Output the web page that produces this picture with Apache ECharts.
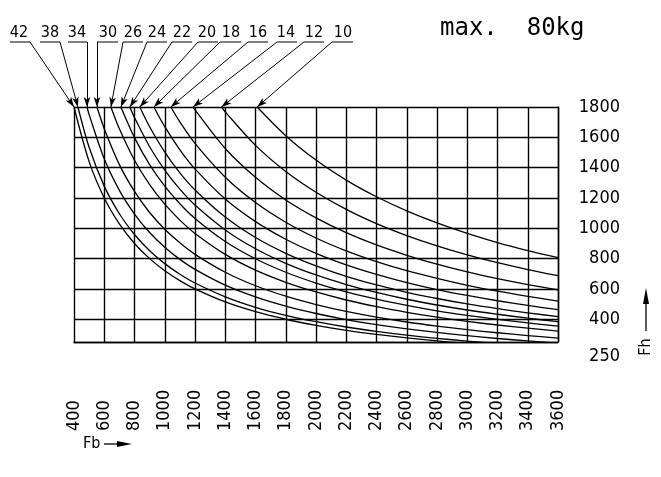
<!DOCTYPE html>
<html><head><meta charset="utf-8">
<script src="https://cdn.jsdelivr.net/npm/echarts@6/dist/echarts.min.js"></script>
<style>html,body{margin:0;padding:0;background:#fff}#c{width:661px;height:477px}</style>
</head><body><div id="c"></div>
<script>
// ---- data ----
const xTicks = [400,600,800,1000,1200,1400,1600,1800,2000,2200,2400,2600,2800,3000,3200,3400,3600];
const fhTicks = [250,400,600,800,1000,1200,1400,1600,1800];
const fbValues = [400,500,600,700,800,900,1000,1100,1200,1400,1600,1800,2000,2200,2400,2600,2800,3000,3200,3400,3600];
const curveLabels = ['42','38','34','30','26','24','22','20','18','16','14','12','10'];
const startFb = [400,426,486,552,644,710,769,835,928,1040,1187,1375,1611]; // where each curve leaves Fh = 1800
const fh42 = [1800,1440,1200,1029,900,800,720,655,600,514,450,400,360,327,300,277,257,240,null,null,null];
const fh38 = [null,1534,1278,1096,959,852,767,697,639,548,479,426,384,349,320,295,274,256,240,null,null];
const fh34 = [null,1750,1458,1250,1094,972,875,795,729,625,547,486,438,398,365,337,313,292,273,257,243];
const fh30 = [null,null,1657,1420,1243,1104,994,904,828,710,621,552,497,452,414,382,355,331,311,292,276];
const fh26 = [null,null,null,1656,1449,1288,1159,1054,966,828,724,644,580,527,483,446,414,386,362,341,322];
const fh24 = [null,null,null,null,1598,1420,1278,1162,1065,913,799,710,639,581,533,492,456,426,399,376,355];
const fh22 = [null,null,null,null,1730,1538,1384,1258,1153,989,865,769,692,629,577,532,494,461,433,407,384];
const fh20 = [null,null,null,null,null,1670,1503,1366,1253,1074,939,835,752,683,626,578,537,501,470,442,418];
const fh18 = [null,null,null,null,null,null,1670,1518,1392,1193,1044,928,835,759,696,642,596,557,522,491,464];
const fh16 = [null,null,null,null,null,null,null,1702,1560,1337,1170,1040,936,851,780,720,669,624,585,551,520];
const fh14 = [null,null,null,null,null,null,null,null,1781,1526,1336,1187,1069,971,890,822,763,712,668,629,594];
const fh12 = [null,null,null,null,null,null,null,null,null,1768,1547,1375,1238,1125,1031,952,884,825,773,728,688];
const fh10 = [null,null,null,null,null,null,null,null,null,null,null,1611,1450,1318,1208,1115,1036,967,906,853,806];
const curves = [fh42,fh38,fh34,fh30,fh26,fh24,fh22,fh20,fh18,fh16,fh14,fh12,fh10];

// ---- layout of the curve call-outs (pixels) ----
const calloutX = [19,50,77,108,133,157,182,207,231,258,286,314,343];
const underlineFrom = [10,40,68,97,123,147,172,198,220,248,277,304,332];
const underlineTo   = [30,60,87,118,143,167,192,218,241,268,297,324,353];
const leaderStart   = [30,60,87,97,123,147,172,198,220,248,277,304,332];
const calloutY = 42;

const monoFont = "'DejaVu Sans Mono', monospace";
const narrowFont = "'Liberation Sans Narrow', 'DejaVu Sans Condensed', sans-serif";

const chart = echarts.init(document.getElementById('c'), null, {renderer: 'canvas'});

const series = curves.map((vals, i) => {
  const data = [[startFb[i], 1800]];
  vals.forEach((v, j) => { if (v != null && fbValues[j] > startFb[i]) data.push([fbValues[j], v]); });
  return {
    type: 'line', name: curveLabels[i], data,
    smooth: 0.3, showSymbol: false, symbol: 'none', clip: true,
    lineStyle: {color: '#000', width: 1.3}, silent: true, animation: false, z: 3,
    markLine: {
      silent: true, animation: false,
      symbol: ['none', 'arrow'], symbolSize: [5, 10],
      label: {show: false},
      lineStyle: {color: '#000', width: 1, type: 'solid'},
      data: [[{x: leaderStart[i], y: calloutY}, {coord: [startFb[i], 1800]}]]
    }
  };
});

const graphics = [];
curveLabels.forEach((t, i) => {
  graphics.push({type: 'text', x: calloutX[i], y: calloutY - 1,
    style: {text: t, font: "16px " + narrowFont, fill: '#000', textAlign: 'center', textVerticalAlign: 'bottom'}});
  graphics.push({type: 'line', shape: {x1: underlineFrom[i], y1: calloutY, x2: underlineTo[i], y2: calloutY},
    style: {stroke: '#000', lineWidth: 1}});
});
// title
graphics.push({type: 'text', x: 440, y: 41,
  style: {text: 'max.  80kg', font: "24px " + monoFont, fill: '#000', textVerticalAlign: 'bottom'}});
// Fb label + arrow
graphics.push({type: 'text', x: 83, y: 444,
  style: {text: 'Fb', font: "16px " + narrowFont, fill: '#000', textVerticalAlign: 'middle'}});
graphics.push({type: 'line', shape: {x1: 104, y1: 444, x2: 120, y2: 444}, style: {stroke: '#000', lineWidth: 1.3}});
graphics.push({type: 'polygon', shape: {points: [[132, 444], [117, 441], [117, 447]]}, style: {fill: '#000'}});
// Fh label + arrow
graphics.push({type: 'text', x: 646, y: 347, rotation: Math.PI / 2,
  style: {text: 'Fh', font: "16px " + narrowFont, fill: '#000', textAlign: 'center', textVerticalAlign: 'middle'}});
graphics.push({type: 'line', shape: {x1: 646, y1: 331, x2: 646, y2: 300}, style: {stroke: '#000', lineWidth: 1.3}});
graphics.push({type: 'polygon', shape: {points: [[646, 288], [643, 304], [649, 304]]}, style: {fill: '#000'}});

chart.setOption({
  animation: false,
  backgroundColor: '#fff',
  grid: {left: 74, right: 103, top: 107, bottom: 135, containLabel: false},
  xAxis: {
    type: 'value', min: xTicks[0], max: xTicks[xTicks.length - 1], interval: 200,
    axisLine: {show: true, lineStyle: {color: '#000', width: 1.4}},
    axisTick: {show: false},
    splitLine: {show: true, lineStyle: {color: '#000', width: 1.4}},
    axisLabel: {rotate: 90, align: 'left', verticalAlign: 'middle', margin: 89,
      fontFamily: narrowFont, fontSize: 18, color: '#000', showMinLabel: true, showMaxLabel: true,
      formatter: v => String(v)}
  },
  yAxis: {
    type: 'value', position: 'right', min: 250, max: 1800,
    axisLine: {show: true, lineStyle: {color: '#000', width: 1.4}},
    axisTick: {show: false, customValues: fhTicks},
    splitLine: {show: true, lineStyle: {color: '#000', width: 1.4}},
    axisLabel: {customValues: fhTicks, align: 'right', margin: 62,
      fontFamily: narrowFont, fontSize: 18, color: '#000',
      formatter: v => v === 250 ? '{low|250}' : String(v),
      rich: {low: {fontFamily: narrowFont, fontSize: 18, color: '#000', padding: [28, 0, 0, 0]}}}
  },
  graphic: graphics,
  series
});
</script></body></html>
